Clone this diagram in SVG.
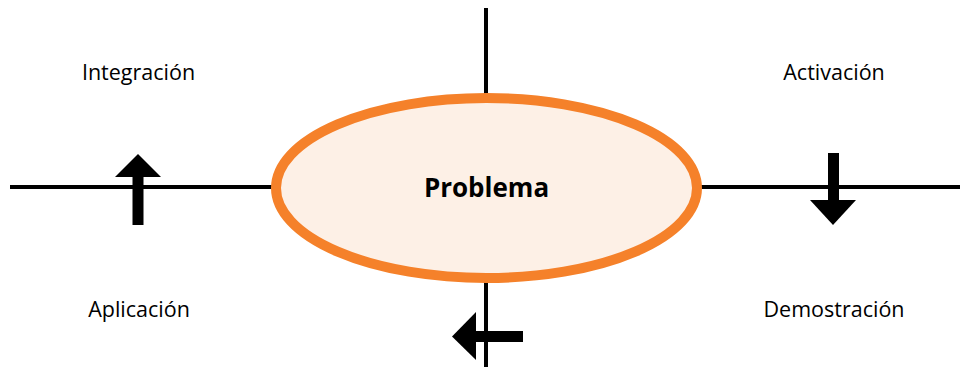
<svg xmlns="http://www.w3.org/2000/svg" width="960" height="367" viewBox="0 0 960 367">
<style>
.ax{stroke:#000;stroke-width:4;fill:none}
.lbl{font-family:"Open Sans","Liberation Sans",sans-serif;font-size:21.5px;fill:#000;text-anchor:middle}
.arr{fill:#000}
</style>
<rect width="960" height="367" fill="#fff"/>
<g id="connectors">
<line class="ax" x1="486" y1="8" x2="486" y2="367"/>
<line class="ax" x1="10" y1="187" x2="960" y2="187"/>
</g>
<g id="problema">
<ellipse cx="486.5" cy="188" rx="210.5" ry="90" fill="#fdf0e6" stroke="#f5812a" stroke-width="10"/>
<text x="486.5" y="197" font-family="'Open Sans','Liberation Sans',sans-serif" font-size="26" font-weight="bold" text-anchor="middle">Problema</text>
</g>
<g id="integracion"><text class="lbl" x="138.5" y="80">Integración</text></g>
<g id="activacion"><text class="lbl" x="834" y="80">Activación</text></g>
<g id="aplicacion"><text class="lbl" x="139" y="317">Aplicación</text></g>
<g id="demostracion"><text class="lbl" x="834" y="317">Demostración</text></g>
<g id="arrow-up"><rect class="arr" x="132.5" y="175" width="11" height="50"/><polygon class="arr" points="138,154 161,177 115,177"/></g>
<g id="arrow-down"><rect class="arr" x="828" y="153" width="11" height="49"/><polygon class="arr" points="833,225 856,200 810,200"/></g>
<g id="arrow-left"><rect class="arr" x="474" y="331" width="49" height="11"/><polygon class="arr" points="452,336.5 476,312 476,360"/></g>
</svg>
